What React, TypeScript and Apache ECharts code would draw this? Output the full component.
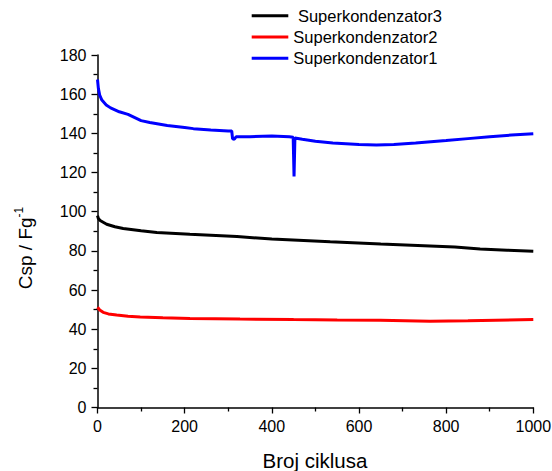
import React, { useEffect, useRef } from "react";
import * as echarts from "echarts";

const xTicks = [0, 200, 400, 600, 800, 1000];
const yTicks = [0, 20, 40, 60, 80, 100, 120, 140, 160, 180];

const seriesNames = [" Superkondenzator3", "Superkondenzator2", "Superkondenzator1"];
const seriesColors = ["#000000", "#ff0000", "#0000ff"];

const blueX = [0, 2, 5, 10, 20, 30, 50, 70, 100, 120, 160, 200, 220, 260, 300, 308, 310, 314, 318, 350, 400, 440, 449, 451, 453, 470, 500, 540, 600, 640, 680, 730, 800, 850, 900, 950, 1000];
const blueY = [167.5, 163, 159.5, 157, 154.5, 153, 151, 149.7, 146.5, 145.5, 144, 143, 142.4, 141.7, 141.2, 141.2, 137.2, 137.0, 138.2, 138.3, 138.6, 138.2, 138.0, 118, 137.6, 137.0, 136.0, 135.1, 134.3, 134.1, 134.3, 135.1, 136.3, 137.3, 138.3, 139.1, 139.8];

const blackX = [0, 2, 6, 21, 40, 59, 100, 136, 212, 320, 400, 534, 650, 763, 820, 878, 940, 1000];
const blackY = [98, 96.5, 95.5, 93.6, 92.3, 91.4, 90.2, 89.4, 88.5, 87.3, 86.0, 84.6, 83.5, 82.5, 82.0, 80.9, 80.3, 79.8];

const redX = [0, 5, 13, 25, 44, 70, 98, 150, 212, 327, 450, 550, 649, 763, 850, 1000];
const redY = [51.2, 49.8, 48.6, 47.8, 47.2, 46.6, 46.2, 45.8, 45.5, 45.2, 44.9, 44.7, 44.6, 44.1, 44.3, 44.9];

const xTitle = "Broj ciklusa";
const yTitleMain = "Csp / Fg";
const yTitleSup = "-1";

const FONT = "'Liberation Sans', Arial, sans-serif";

function zip(xs: number[], ys: number[]) {
  return xs.map((x, i) => [x, ys[i]]);
}

export default function App() {
  const ref = useRef<HTMLDivElement>(null);
  useEffect(() => {
    if (!ref.current) return;
    const chart = echarts.init(ref.current, undefined, { renderer: "svg" });
    const axisCommon = {
      axisLine: { show: true, onZero: false, lineStyle: { color: "#000", width: 1.5 } },
      axisTick: { show: true, inside: false, length: 6, lineStyle: { color: "#000", width: 1.3 } },
      minorTick: { show: true, splitNumber: 2, length: 4, lineStyle: { color: "#000", width: 1.3 } },
      splitLine: { show: false },
      minorSplitLine: { show: false },
      axisLabel: {
        color: "#000",
        fontSize: 16,
        fontFamily: FONT,
        margin: 11,
        formatter: (v: number) => String(v),
      },
    };
    const datasets = [zip(blackX, blackY), zip(redX, redY), zip(blueX, blueY)];
    chart.setOption({
      animation: false,
      backgroundColor: "#fff",
      grid: {
        left: 97.5,
        right: 18.7,
        top: 55,
        bottom: 63.5,
        containLabel: false,
        outerBoundsMode: "none",
      },
      xAxis: {
        type: "value",
        min: xTicks[0],
        max: xTicks[xTicks.length - 1],
        interval: xTicks[1] - xTicks[0],
        ...axisCommon,
      },
      yAxis: {
        type: "value",
        min: yTicks[0],
        max: yTicks[yTicks.length - 1],
        interval: yTicks[1] - yTicks[0],
        ...axisCommon,
      },
      legend: {
        orient: "vertical",
        left: 246.7,
        top: 1.7,
        itemWidth: 36.6,
        itemHeight: 3,
        itemGap: 3.3,
        icon: "rect",
        data: seriesNames,
        textStyle: { color: "#000", fontSize: 16.5, fontFamily: FONT, lineHeight: 18 },
      },
      graphic: [
        {
          type: "text",
          x: 315,
          y: 460,
          style: {
            text: xTitle,
            fill: "#000",
            font: `20.5px ${FONT}`,
            textAlign: "center",
            textVerticalAlign: "middle",
          },
        },
        {
          type: "text",
          x: 24,
          y: 248,
          rotation: Math.PI / 2,
          style: {
            text: `{a|${yTitleMain}}{b|${yTitleSup}}`,
            textAlign: "center",
            textVerticalAlign: "middle",
            rich: {
              a: { fontSize: 19, fontFamily: FONT, fill: "#000", lineHeight: 22, verticalAlign: "bottom" },
              b: { fontSize: 12, fontFamily: FONT, fill: "#000", lineHeight: 22, verticalAlign: "top" },
            },
          },
        },
      ],
      series: datasets.map((d, i) => ({
        name: seriesNames[i],
        type: "line",
        data: d,
        showSymbol: false,
        symbol: "none",
        smooth: false,
        lineStyle: { color: seriesColors[i], width: 3 },
        itemStyle: { color: seriesColors[i] },
      })),
    });
    return () => chart.dispose();
  }, []);
  return <div ref={ref} style={{ position: "fixed", left: 0, top: 0, width: 552, height: 471 }} />;
}
